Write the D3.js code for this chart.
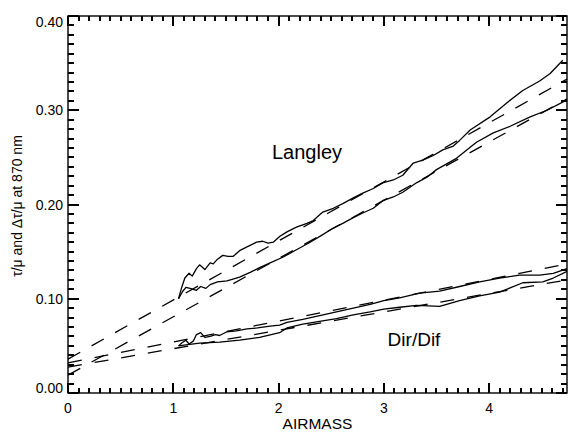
<!DOCTYPE html>
<html><head><meta charset="utf-8">
<script src="https://cdn.jsdelivr.net/npm/d3@7"></script>
<style>
html,body{margin:0;padding:0;background:#fff;}
svg text{font-family:"Liberation Sans",Arial,Helvetica,sans-serif;fill:#000;}
</style></head>
<body>
<svg id="c" width="568" height="432"></svg>
<script>
// ---- data ----
const xTicks = [0, 1, 2, 3, 4];
const xTickLabels = ["0", "1", "2", "3", "4"];
const yTicks = [0.00, 0.10, 0.20, 0.30, 0.40];
const yTickLabels = ["0.00", "0.10", "0.20", "0.30", "0.40"];

const langleyUpperX = [1.05,1.08,1.11,1.15,1.18,1.22,1.25,1.30,1.35,1.38,1.42,1.47,1.52,1.57,1.63,1.70,1.79,1.85,1.90,1.95,2.01,2.08,2.17,2.27,2.33,2.42,2.52,2.61,2.71,2.80,2.90,2.99,3.09,3.18,3.28,3.37,3.47,3.56,3.66,3.72,3.82,4.01,4.17,4.32,4.48,4.58,4.70];
const langleyUpperY = [0.100,0.112,0.122,0.127,0.124,0.132,0.136,0.131,0.138,0.137,0.142,0.146,0.145,0.145,0.151,0.155,0.160,0.161,0.159,0.160,0.166,0.171,0.176,0.180,0.183,0.192,0.196,0.201,0.207,0.212,0.217,0.223,0.226,0.231,0.244,0.247,0.252,0.258,0.262,0.268,0.279,0.293,0.308,0.321,0.331,0.339,0.353];

const langleyLowerX = [1.05,1.09,1.12,1.16,1.22,1.26,1.31,1.35,1.42,1.51,1.63,1.73,1.82,1.92,2.04,2.17,2.30,2.42,2.52,2.61,2.71,2.80,2.90,2.99,3.09,3.18,3.31,3.41,3.50,3.69,3.88,4.04,4.20,4.39,4.55,4.74];
const langleyLowerY = [0.100,0.108,0.112,0.111,0.109,0.113,0.111,0.115,0.118,0.119,0.123,0.128,0.133,0.138,0.144,0.152,0.160,0.168,0.175,0.180,0.186,0.191,0.196,0.204,0.208,0.213,0.223,0.229,0.237,0.249,0.266,0.276,0.283,0.293,0.300,0.311];

const dirdifUpperX = [1.05,1.08,1.12,1.15,1.19,1.22,1.26,1.30,1.35,1.40,1.44,1.51,1.60,1.70,1.80,1.92,2.01,2.08,2.23,2.39,2.55,2.71,2.87,3.00,3.15,3.34,3.53,3.72,3.91,4.10,4.29,4.48,4.61,4.74];
const dirdifUpperY = [0.050,0.053,0.056,0.052,0.055,0.062,0.064,0.059,0.060,0.062,0.061,0.065,0.066,0.068,0.069,0.071,0.072,0.075,0.078,0.082,0.086,0.090,0.094,0.098,0.101,0.106,0.108,0.113,0.118,0.122,0.125,0.125,0.127,0.132];

const dirdifLowerX = [1.05,1.12,1.25,1.44,1.63,1.82,2.01,2.08,2.23,2.39,2.55,2.71,2.87,3.00,3.15,3.31,3.53,3.72,3.91,4.10,4.32,4.51,4.61,4.74];
const dirdifLowerY = [0.050,0.051,0.053,0.054,0.056,0.059,0.064,0.069,0.073,0.076,0.079,0.083,0.086,0.089,0.091,0.093,0.092,0.098,0.103,0.107,0.117,0.118,0.122,0.129];

const fitX = [0, 4.74];
const langleyFitUpperY = [0.036, 0.333];
const langleyFitLowerY = [0.019, 0.312];
const dirdifFitUpperY = [0.032, 0.137];
const dirdifFitLowerY = [0.0275, 0.120];

// ---- layout ----
const L = 68, R = 567, T = 16, B = 393;
const xs = d3.scaleLinear().domain([0, 4.74]).range([L, R]);
const ys = d3.scaleLinear().domain([0, 0.4]).range([B, T]);
const svg = d3.select("#c");

const line = d3.line().x(d => xs(d[0])).y(d => ys(d[1]));
function pairs(a, b){ return a.map((v,i)=>[v, b[i]]); }

const curves = [
  [langleyUpperX, langleyUpperY],
  [langleyLowerX, langleyLowerY],
  [dirdifUpperX, dirdifUpperY],
  [dirdifLowerX, dirdifLowerY]
];
curves.forEach(c => {
  svg.append("path").attr("d", line(pairs(c[0], c[1])))
    .attr("fill","none").attr("stroke","#000").attr("stroke-width",1.3)
    .attr("stroke-linejoin","round");
});
[langleyFitUpperY, langleyFitLowerY, dirdifFitUpperY, dirdifFitLowerY].forEach(f => {
  svg.append("path").attr("d", line(pairs(fitX, f)))
    .attr("fill","none").attr("stroke","#000").attr("stroke-width",1.3)
    .attr("stroke-dasharray","14,13");
});

// ---- frame ----
svg.append("rect").attr("x", L).attr("y", T).attr("width", R-L).attr("height", B-T)
  .attr("fill","none").attr("stroke","#000").attr("stroke-width",1.4);

// ---- ticks (inward on all four sides) ----
const xMinor = d3.range(0, 4.7001, 0.1).map(v => +v.toFixed(2));
const yMinor = d3.range(0, 0.4001, 0.01).map(v => +v.toFixed(3));
const tickRects = [];
function xTick(v, len){
  const px = Math.round(xs(v));
  tickRects.push({x: px - 1, y: B - len, w: 2, h: len});
  tickRects.push({x: px - 1, y: T, w: 2, h: len});
}
function yTick(v, len){
  const py = Math.round(ys(v));
  tickRects.push({x: L, y: py - 1, w: len, h: 2});
  tickRects.push({x: R - len, y: py - 1, w: len, h: 2});
}
xMinor.forEach(v => xTick(v, 5));
xTicks.forEach(v => xTick(v, 10));
yMinor.forEach(v => yTick(v, 6));
yTicks.forEach(v => yTick(v, 11));
svg.append("g").selectAll("rect").data(tickRects).join("rect")
  .attr("x", d => d.x).attr("y", d => d.y).attr("width", d => d.w).attr("height", d => d.h)
  .attr("fill", "#000");

// ---- tick labels ----
svg.append("g").selectAll("text").data(xTicks).join("text")
  .attr("x", d => xs(d)).attr("y", B + 20).attr("text-anchor","middle")
  .attr("font-size", 14).text((d,i) => xTickLabels[i]);
svg.append("g").selectAll("text").data(yTicks).join("text")
  .attr("x", L - 5)
  .attr("y", d => Math.min(Math.max(ys(d), T + 6), B - 5) + 5)
  .attr("text-anchor","end")
  .attr("font-size", 14).text((d,i) => yTickLabels[i]);

// ---- labels ----
svg.append("text").attr("x", (L+R)/2).attr("y", 429).attr("text-anchor","middle")
  .attr("font-size",15.5).text("AIRMASS");
svg.append("text").attr("transform",`translate(22,206) rotate(-90)`)
  .attr("text-anchor","middle").attr("font-size",14).text("τ/μ and Δτ/μ at 870 nm");
svg.append("text").attr("x", 307).attr("y", 159).attr("text-anchor","middle")
  .attr("font-size",20).text("Langley");
svg.append("text").attr("x", 414).attr("y", 346).attr("text-anchor","middle")
  .attr("font-size",19).text("Dir/Dif");
</script>
</body></html>
